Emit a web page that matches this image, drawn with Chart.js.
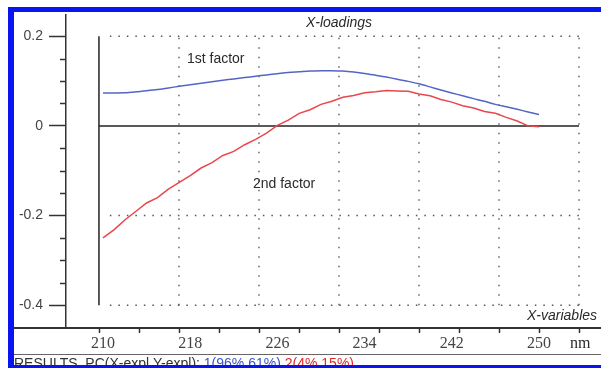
<!DOCTYPE html>
<html>
<head>
<meta charset="utf-8">
<script src="https://cdn.jsdelivr.net/npm/chart.js@4.4.1/dist/chart.umd.min.js"></script>
<style>
  body { margin: 0; background: #fff; }
  canvas { display: block; }
</style>
</head>
<body>
<canvas id="loadingsChart" width="601" height="368"></canvas>
<script>
// Wavelengths (nm) and the two PCA X-loadings
const wavelengths = [210, 211, 212, 213, 214, 215, 216, 217, 218, 219, 220,
    221, 222, 223, 224, 225, 226, 227, 228, 229, 230,
    231, 232, 233, 234, 235, 236, 237, 238, 239, 240,
    241, 242, 243, 244, 245, 246, 247, 248, 249, 250];
const factor1 = [0.0736, 0.0736, 0.0740, 0.0759, 0.0784, 0.0812, 0.0847, 0.0882, 0.0917, 0.0952, 0.0987,
    0.1018, 0.1048, 0.1078, 0.1108, 0.1136, 0.1163, 0.1190, 0.1207, 0.1224, 0.1231,
    0.1232, 0.1222, 0.1200, 0.1170, 0.1130, 0.1088, 0.1042, 0.0993, 0.0938, 0.0870,
    0.0800, 0.0735, 0.0670, 0.0608, 0.0548, 0.0480, 0.0425, 0.0370, 0.0310, 0.0255];
const factor2 = [-0.250, -0.232, -0.210, -0.191, -0.172, -0.160, -0.141, -0.126, -0.111, -0.094, -0.082,
    -0.066, -0.057, -0.042, -0.030, -0.016, 0.001, 0.013, 0.028, 0.036, 0.048,
    0.055, 0.064, 0.068, 0.074, 0.076, 0.079, 0.078, 0.077, 0.071, 0.067,
    0.059, 0.053, 0.045, 0.040, 0.032, 0.028, 0.019, 0.011, 0.000, -0.002];

// Tick labels
const yTickLabels = [0.2, 0, -0.2, -0.4];
const yMinorTicks = [0.15, 0.1, 0.05, -0.05, -0.1, -0.15, -0.25, -0.3, -0.35];
const xTickLabels = [210, 218, 226, 234, 242, 250];

// Inner frame / dotted grid of the plot (in nm and loading units)
const frameLeft = 209.63;
const gridStep = 7.34;
const frameRight = frameLeft + 6 * gridStep;
const gridX = [1, 2, 3, 4, 5, 6].map(k => frameLeft + k * gridStep);
const gridY = [0.2, -0.2, -0.4];

function line(points, color, width, dash) {
    return {
        data: points,
        borderColor: color,
        borderWidth: width,
        borderDash: dash || [],
        pointRadius: 0,
        tension: 0,
        order: 5
    };
}

const datasets = [
    {
        label: '1st factor',
        data: wavelengths.map((w, i) => ({ x: w, y: factor1[i] })),
        borderColor: '#5565c4',
        borderWidth: 1.5,
        pointRadius: 0,
        tension: 0.3,
        order: 1
    },
    {
        label: '2nd factor',
        data: wavelengths.map((w, i) => ({ x: w, y: factor2[i] })),
        borderColor: '#e8474c',
        borderWidth: 1.5,
        pointRadius: 0,
        tension: 0,
        order: 1
    },
    line([{ x: frameLeft, y: 0 }, { x: frameRight, y: 0 }], '#222', 1.5),
    line([{ x: frameLeft, y: -0.4 }, { x: frameLeft, y: 0.2 }], '#222', 1.5)
];
gridY.forEach(v => datasets.push(line([{ x: frameLeft + 1, y: v }, { x: frameRight, y: v }], '#555', 1.5, [1.5, 7])));
gridX.forEach(v => datasets.push(line([{ x: v, y: -0.4 }, { x: v, y: 0.2 }], '#666', 1.5, [1.5, 8])));

// Extra drawing: minor ticks, texts, frame
const decor = {
    id: 'decor',
    afterDraw(chart) {
        const { ctx, chartArea: a, scales: { x, y } } = chart;
        ctx.save();
        ctx.strokeStyle = '#333';
        ctx.lineWidth = 1.5;

        // minor ticks on the left axis
        yMinorTicks.forEach(v => {
            const py = Math.round(y.getPixelForValue(v)) + 0.5;
            ctx.beginPath();
            ctx.moveTo(a.left - 6, py);
            ctx.lineTo(a.left, py);
            ctx.stroke();
        });

        // tick marks under the bottom axis
        for (let k = 0; k <= 12; k++) {
            const px = Math.round(x.getPixelForValue(frameLeft + k * gridStep / 2)) + 0.5;
            ctx.beginPath();
            ctx.moveTo(px, a.bottom);
            ctx.lineTo(px, a.bottom + 5);
            ctx.stroke();
        }

        // bottom axis continues to the left edge
        ctx.lineWidth = 2;
        ctx.beginPath();
        ctx.moveTo(14, a.bottom);
        ctx.lineTo(a.left, a.bottom);
        ctx.stroke();

        // separator above status line
        ctx.lineWidth = 1;
        ctx.strokeStyle = '#666';
        ctx.beginPath();
        ctx.moveTo(14, 354.5);
        ctx.lineTo(601, 354.5);
        ctx.stroke();

        // labels
        ctx.fillStyle = '#2a2a2a';
        ctx.textBaseline = 'middle';
        ctx.font = '14px "Liberation Sans", Arial, sans-serif';
        ctx.textAlign = 'left';
        ctx.fillText('1st factor', x.getPixelForValue(217.7), y.getPixelForValue(0.15));
        ctx.fillText('2nd factor', x.getPixelForValue(223.76), y.getPixelForValue(-0.13));

        ctx.font = 'italic 14px "Liberation Sans", Arial, sans-serif';
        ctx.textAlign = 'center';
        ctx.fillText('X-loadings', 339, 23);
        ctx.textAlign = 'left';
        ctx.fillText('X-variables', 527, 316);

        ctx.font = '16px "Liberation Serif", "Times New Roman", serif';
        ctx.fillText('nm', 570, 344);

        // status line
        ctx.font = '14px "Liberation Sans", Arial, sans-serif';
        ctx.textBaseline = 'alphabetic';
        let tx = 14;
        [['RESULTS  PC(X-expl Y-expl): ', '#333'], ['1(96% 61%) ', '#3b55c8'], ['2(4% 15%)', '#e02a2a']].forEach(([t, c]) => {
            ctx.fillStyle = c;
            ctx.fillText(t, tx, 368);
            tx += ctx.measureText(t).width;
        });

        // blue window frame
        ctx.fillStyle = '#0a14ee';
        ctx.fillRect(8, 7, 601 - 8, 5);
        ctx.fillRect(8, 7, 6, 368 - 7);
        ctx.fillRect(8, 365, 601 - 8, 5);
        ctx.restore();
    }
};

new Chart(document.getElementById('loadingsChart'), {
    type: 'line',
    data: { datasets: datasets },
    options: {
        responsive: false,
        devicePixelRatio: 1,
        animation: false,
        events: [],
        layout: { padding: { top: 12, left: 0, right: 0, bottom: 0 } },
        plugins: { legend: { display: false }, tooltip: { enabled: false } },
        scales: {
            x: {
                type: 'linear',
                position: 'bottom',
                min: 206.606,
                max: 255.688,
                afterBuildTicks: scale => { scale.ticks = xTickLabels.map(v => ({ value: v })); },
                afterFit: scale => { scale.height = 40; },
                grid: { display: false },
                border: { display: true, color: '#333', width: 2 },
                ticks: {
                    color: '#444',
                    padding: -2,
                    maxRotation: 0,
                    autoSkip: false,
                    font: { family: '"Liberation Serif", "Times New Roman", serif', size: 16 },
                    callback: v => String(v)
                }
            },
            y: {
                type: 'linear',
                position: 'left',
                min: -0.4509,
                max: 0.2487,
                afterBuildTicks: scale => { scale.ticks = yTickLabels.map(v => ({ value: v })); },
                afterFit: scale => { scale.width = 66; },
                grid: {
                    drawOnChartArea: false,
                    drawTicks: true,
                    tickLength: 17,
                    tickColor: '#333',
                    tickWidth: 1.5
                },
                border: { display: true, color: '#333', width: 1.5 },
                ticks: {
                    color: '#444',
                    padding: 6,
                    autoSkip: false,
                    font: { family: '"Liberation Sans", Arial, sans-serif', size: 14 },
                    callback: v => String(v)
                }
            }
        }
    },
    plugins: [decor]
});
</script>
</body>
</html>
